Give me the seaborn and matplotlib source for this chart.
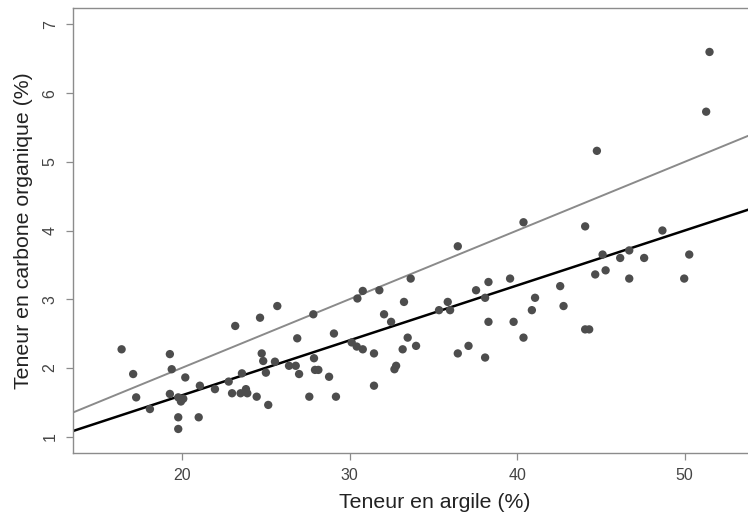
import matplotlib
matplotlib.use("Agg")
import matplotlib.pyplot as plt
import seaborn as sns
import pandas as pd

# teneur en argile (%) et teneur en carbone organique (%)
argile = [16.40, 17.09, 17.27, 18.09, 19.28, 19.39, 19.28, 19.78, 19.94, 20.08,
          19.78, 19.78, 20.20, 21.07, 21.00, 21.97, 23.18, 22.79, 22.99, 23.58,
          23.50, 23.82, 23.90, 24.66, 24.76, 24.85, 25.01, 24.46, 25.15, 25.69,
          27.84, 30.47, 30.79, 26.88, 29.07, 30.13, 30.43, 30.79, 25.55, 26.39,
          26.79, 26.99, 27.88, 27.94, 28.14, 28.78, 27.60, 29.19, 36.46, 33.65,
          31.78, 33.25, 32.06, 32.48, 35.34, 35.86, 36.00, 33.47, 33.97, 33.17,
          31.46, 32.78, 32.68, 31.46, 36.46, 37.10, 40.38, 38.29, 39.58, 37.55,
          38.09, 42.57, 41.07, 40.88, 42.77, 38.29, 39.79, 40.38, 38.09, 44.76,
          44.06, 48.67, 45.10, 46.69, 46.15, 47.58, 50.27, 44.66, 45.28, 46.69,
          49.97, 44.06, 44.30, 51.48, 51.28]
carbone = [2.27, 1.91, 1.57, 1.40, 2.20, 1.98, 1.62, 1.57, 1.51, 1.55,
           1.28, 1.11, 1.86, 1.74, 1.28, 1.69, 2.61, 1.80, 1.63, 1.92,
           1.63, 1.69, 1.63, 2.73, 2.21, 2.10, 1.93, 1.58, 1.46, 2.90,
           2.78, 3.01, 3.12, 2.43, 2.50, 2.37, 2.31, 2.27, 2.09, 2.03,
           2.03, 1.91, 2.14, 1.97, 1.97, 1.87, 1.58, 1.58, 3.77, 3.30,
           3.13, 2.96, 2.78, 2.67, 2.84, 2.96, 2.84, 2.44, 2.32, 2.27,
           2.21, 2.03, 1.98, 1.74, 2.21, 2.32, 4.12, 3.25, 3.30, 3.13,
           3.02, 3.19, 3.02, 2.84, 2.90, 2.67, 2.67, 2.44, 2.15, 5.16,
           4.06, 4.00, 3.65, 3.71, 3.60, 3.60, 3.65, 3.36, 3.42, 3.30,
           3.30, 2.56, 2.56, 6.60, 5.73]

# droites passant par l'origine (pentes)
pentes = [0.10, 0.08]
couleurs_droites = ["#8a8a8a", "#000000"]
epaisseurs = [1.4, 1.8]

x_ticks = [20, 30, 40, 50]
y_ticks = [1, 2, 3, 4, 5, 6, 7]

df = pd.DataFrame({"argile": argile, "carbone": carbone})

sns.set_style("white")
plt.rcParams["font.family"] = ["Liberation Sans", "DejaVu Sans"]

fig = plt.figure(figsize=(7.48, 5.13), dpi=100)
# le cadre d'origine dépasse à droite de l'image (recadrée)
ax = fig.add_axes([73 / 748, 60 / 513, (797 - 73) / 748, 445 / 513])

sns.scatterplot(data=df, x="argile", y="carbone", color="#4d4d4d",
                s=36, edgecolor="none", ax=ax, zorder=3)

for pente, coul, lw in zip(pentes, couleurs_droites, epaisseurs):
    ax.axline((0, 0), slope=pente, color=coul, linewidth=lw, zorder=2)

ax.set_xlim(13.5, 56.7)
ax.set_ylim(0.76, 7.24)
ax.set_xticks(x_ticks)
ax.set_yticks(y_ticks)
ax.set_yticklabels([str(v) for v in y_ticks], rotation=90, va="center")

for side in ["left", "bottom", "top", "right"]:
    ax.spines[side].set_color("#8c8c8c")
    ax.spines[side].set_linewidth(1.0)

ax.tick_params(axis="both", direction="out", length=5, width=0.9,
               color="#8c8c8c", labelcolor="#444444", labelsize=11.5, pad=6)
ax.tick_params(left=True, bottom=True)

ax.set_xlabel("Teneur en argile (%)", fontsize=15.3, color="#222222", labelpad=7)
ax.set_ylabel("Teneur en carbone organique (%)", fontsize=15.3, color="#222222", labelpad=7)

plt.savefig("out.png", dpi=100)
